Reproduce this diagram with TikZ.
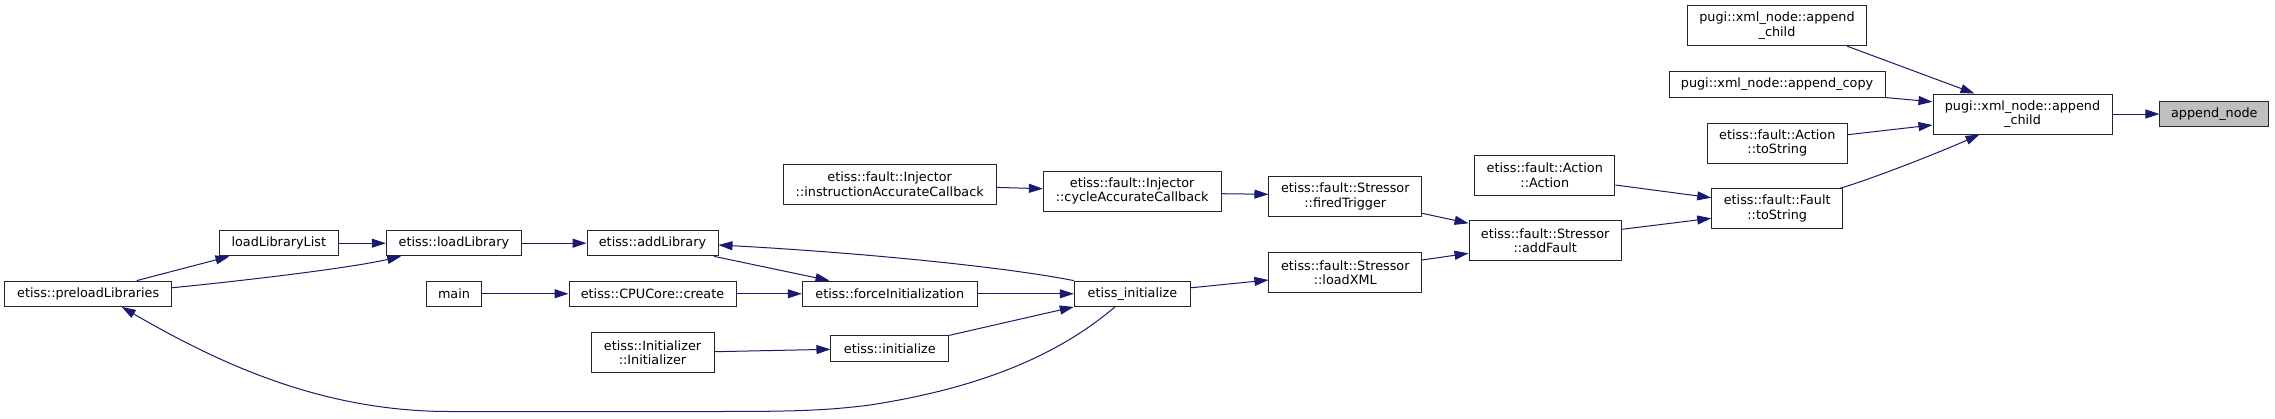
\documentclass[tikz,border=0pt]{standalone}
\usepackage{fontspec}
\setmainfont{DejaVu Sans}
\usetikzlibrary{arrows.meta}
\definecolor{edgeblue}{HTML}{191970}
\definecolor{rootgray}{HTML}{BFBFBF}
\begin{document}
\begin{tikzpicture}[x=1pt,y=-1pt,
  fn/.style={draw=black!85, line width=1pt, fill=white, inner sep=0pt, align=center,
    font=\fontsize{12.8}{14.5}\selectfont, anchor=center},
  one/.style={minimum height=25.3pt},
  two/.style={minimum height=40pt},
  call/.style={draw=edgeblue, line width=1pt, -{Triangle[length=14pt,width=9pt]}}]
\useasboundingbox (0,0) rectangle (2275,418);
\fill[white] (0,0) rectangle (2275,418);

\node[fn,one,minimum width=167pt] (pre) at (88.2,293.75) {etiss::preloadLibraries};
\node[fn,one,minimum width=119pt] (lll) at (278.8,243.2) {loadLibraryList};
\node[fn,one,minimum width=135pt] (ll) at (453.9,243.2) {etiss::loadLibrary};
\node[fn,one,minimum width=54.7pt] (main) at (454,293.75) {main};
\node[fn,one,minimum width=131pt] (al) at (652.5,243.2) {etiss::addLibrary};
\node[fn,one,minimum width=167pt] (cpu) at (652.5,293.75) {etiss::CPUCore::create};
\node[fn,one,minimum width=175pt] (fi) at (889.8,293.75) {etiss::forceInitialization};
\node[fn,one,minimum width=116.4pt] (ei) at (1132.5,293.75) {etiss\_initialize};
\node[fn,two,minimum width=123pt,minimum height=40.3pt] (initr) at (652.5,352.5) {etiss::Initializer\\::Initializer};
\node[fn,one,minimum width=117.7pt] (ini) at (889.8,348.5) {etiss::initialize};
\node[fn,two,minimum width=212.7pt] (iac) at (889.7,184.4) {etiss::fault::Injector\\::instructionAccurateCallback};
\node[fn,two,minimum width=177.7pt] (cac) at (1132.2,191) {etiss::fault::Injector\\::cycleAccurateCallback};
\node[fn,two,minimum width=152.7pt] (ft) at (1345.3,196.7) {etiss::fault::Stressor\\::firedTrigger};
\node[fn,two,minimum width=152.7pt] (lx) at (1345.3,272.5) {etiss::fault::Stressor\\::loadXML};
\node[fn,two,minimum width=152.3pt] (af) at (1545.2,240.5) {etiss::fault::Stressor\\::addFault};
\node[fn,two,minimum width=140.3pt] (aa) at (1544.8,175) {etiss::fault::Action\\::Action};
\node[fn,two,minimum width=131pt] (fts) at (1777.2,208.7) {etiss::fault::Fault\\::toString};
\node[fn,two,minimum width=140pt] (ats) at (1777.3,143.2) {etiss::fault::Action\\::toString};
\node[fn,one,minimum width=216pt,minimum height=25.7pt] (acp) at (1777,84.2) {pugi::xml\_node::append\_copy};
\node[fn,two,minimum width=179.4pt] (pac1) at (1777,25.7) {pugi::xml\_node::append\\\_child};
\node[fn,two,minimum width=179pt] (pac2) at (2022.5,114) {pugi::xml\_node::append\\\_child};
\node[fn,one,minimum width=108.7pt,minimum height=25.4pt,fill=rootgray] (an) at (2214.3,114) {append\_node};

\draw[call] ([xshift=-20pt]pac1.south east) -- ([xshift=42pt]pac2.north west);
\draw[call] (acp.south east) -- ([yshift=-8.3pt]pac2.north west);
\draw[call] ([yshift=8.5pt]ats.east) -- ([yshift=-11pt]pac2.west);
\draw[call] ([xshift=-3pt]fts.north east) .. controls (1875,178) and (1945,150) .. ([xshift=47pt]pac2.south west);
\draw[call] (pac2.east) -- (an.west);
\draw[call] ([yshift=-10pt]aa.east) -- ([yshift=11pt]fts.west);
\draw[call] ([yshift=11.2pt]af.east) -- ([yshift=-9.6pt]fts.west);
\draw[call] ([yshift=-16.6pt]ft.east) -- ([yshift=17.2pt]af.west);
\draw[call] ([yshift=12.5pt]lx.east) -- ([yshift=-12.8pt]af.west);
\draw[call] ([yshift=-2.7pt]cac.east) -- ([yshift=2.4pt]ft.west);
\draw[call] ([yshift=-3pt]iac.east) -- ([yshift=2.3pt]cac.west);
\draw[call] ([yshift=6pt]ei.east) -- ([yshift=-7.5pt]lx.west);
\draw[call] (fi.east) -- (ei.west);
\draw[call] (ini.north east) -- (ei.south west);
\draw[call] (ei.north west) .. controls (1000,266) and (850,252) .. ([yshift=-1.8pt]al.east);
\draw[call] ([xshift=-4.5pt]al.south east) -- ([xshift=27.7pt]fi.north west);
\draw[call] (cpu.east) -- (fi.west);
\draw[call] (main.east) -- (cpu.west);
\draw[call] ([yshift=0.8pt]initr.east) -- ([yshift=-0.8pt]ini.west);
\draw[call] (ll.east) -- (al.west);
\draw[call] (lll.east) -- (ll.west);
\draw[call] ([xshift=48.5pt]pre.north) -- ([xshift=10.7pt]lll.south west);
\draw[call] ([yshift=6pt]pre.east) .. controls (250,280) and (350,268) .. ([xshift=15.3pt]ll.south west);
\draw[call] ([xshift=-17.5pt]ei.south) .. controls (1070,345) and (1000,385) .. (870,405)
  .. controls (820,411.5) and (780,411.5) .. (700,411.5) -- (450,411.5)
  .. controls (330,411.5) and (230,370) .. ([xshift=33.5pt]pre.south);
\end{tikzpicture}
\end{document}
